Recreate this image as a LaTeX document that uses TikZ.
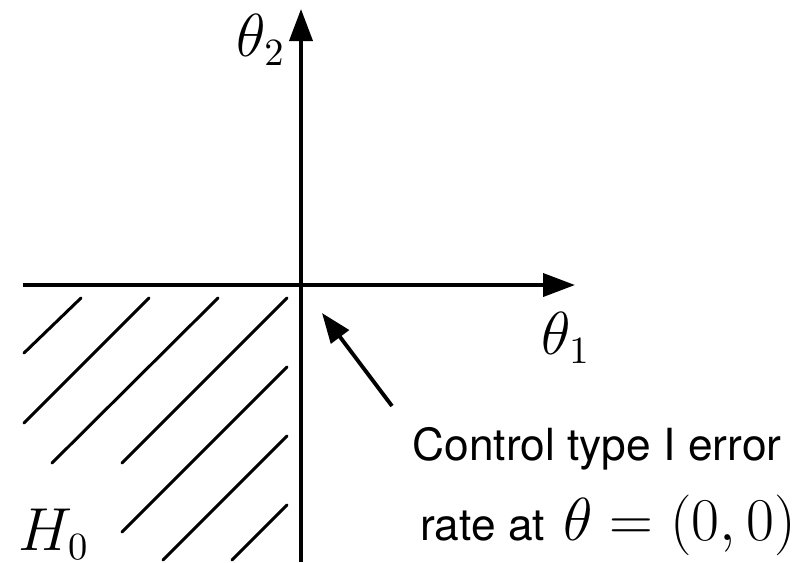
\documentclass[tikz,border=0pt]{standalone}
\usepackage{fontspec}
\newfontfamily\heros{TeX Gyre Heros}
\usetikzlibrary{arrows.meta}
\tikzset{
	axis/.style = {line width=1.1pt, -{Triangle[length=3.2mm, width=2.3mm]}},
	pointer/.style = {line width=1.1pt, -{Triangle[length=3mm, width=2.2mm]}},
	hatch/.style = {line width=0.85pt, line cap=round},
	mathlabel/.style = {inner sep=0pt, font=\fontsize{16}{19}\selectfont},
	note/.style = {inner sep=0pt, anchor=base, font=\fontsize{12.6}{15}\selectfont\heros},
}
\begin{document}
\begin{tikzpicture}
	\useasboundingbox (-3.01,-2.77) rectangle (4.97,2.85);
	% axes
	\coordinate (xstart) at (-2.78,0);
	\coordinate (xend) at (2.74,0);
	\coordinate (ystart) at (0,-2.77);
	\coordinate (yend) at (0,2.76);
	\draw [axis] (xstart) -- (xend);
	\draw [axis] (ystart) -- (yend);
	\node [mathlabel] (thetaone) at (2.65,-0.53) {$\theta_1$};
	\node [mathlabel] (thetatwo) at (-0.40,2.45) {$\theta_2$};
	% null region
	\foreach \xa/\ya/\xb/\yb in {-2.77/-0.68/-2.20/-0.13, -2.77/-1.38/-1.52/-0.13,
		-2.49/-1.78/-0.83/-0.13, -1.79/-1.78/-0.14/-0.13,
		-1.79/-2.47/-0.14/-0.82, -1.38/-2.75/-0.14/-1.51,
		-0.69/-2.75/-0.14/-2.20}
		\draw [hatch] (\xa,\ya) -- (\xb,\yb);
	\node [mathlabel] (null) at (-2.47,-2.49) {$H_0$};
	% note
	\node [note] (ctrl) at (2.96,-1.75) {Control type I error};
	\node [note] (rate) at (3.07,-2.55) {rate at\hspace{1.7pt} {\fontsize{16}{19}\selectfont$\theta=(0,0)$}};
	\coordinate (errtail) at (0.91,-1.21);
	\coordinate (errtip) at (0.21,-0.28);
	\draw [pointer] (errtail) -- (errtip);
\end{tikzpicture}
\end{document}
